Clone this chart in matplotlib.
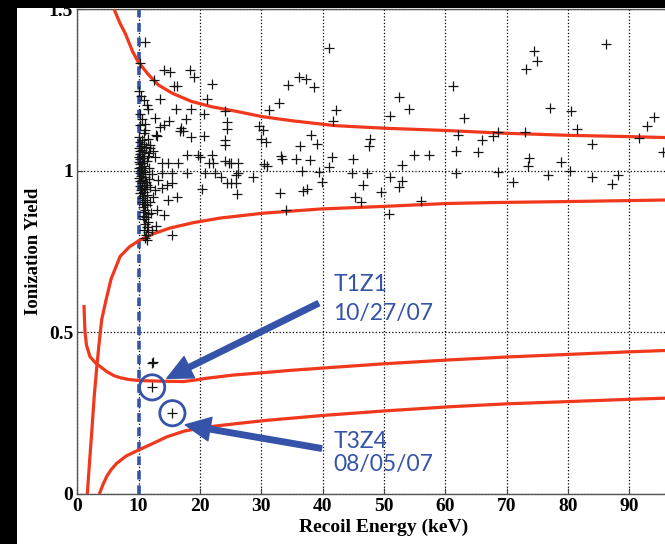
import matplotlib
matplotlib.use("Agg")
import matplotlib.pyplot as plt
from matplotlib.patches import Rectangle

# electron-recoil band edges (keV, yield)
er_hi_x = [6.0, 7.0, 7.8, 9.0, 9.9, 11.5, 13.2, 15.5, 18.6, 22.0, 25.7, 30.1, 35.0, 42.0, 50.0, 60.0, 69.0, 80.0, 90.0, 100.0]
er_hi_y = [1.50, 1.455, 1.426, 1.37, 1.338, 1.30, 1.266, 1.24, 1.215, 1.198, 1.185, 1.168, 1.155, 1.140, 1.132, 1.125, 1.117, 1.110, 1.106, 1.101]
er_lo_x = [1.63, 2.0, 2.35, 2.75, 3.16, 3.6, 3.98, 4.68, 5.5, 6.97, 8.5, 10.2, 12.5, 15.1, 19.0, 23.3, 30.3, 39.6, 49.9, 60.2, 68.0, 79.8, 89.8, 100.0]
er_lo_y = [0.0, 0.10, 0.19, 0.30, 0.39, 0.475, 0.54, 0.60, 0.665, 0.735, 0.765, 0.786, 0.806, 0.823, 0.84, 0.854, 0.869, 0.882, 0.890, 0.899, 0.902, 0.905, 0.908, 0.911]

# nuclear-recoil band edges
nr_hi_x = [1.09, 1.15, 1.26, 1.5, 2.07, 3.0, 3.7, 4.79, 6.0, 6.96, 8.5, 10.2, 14.0, 17.3, 19.0, 21.0, 25.4, 30.0, 35.0, 41.7, 50.0, 60.7, 70.0, 80.0, 90.0, 100.0]
nr_hi_y = [0.585, 0.55, 0.50, 0.46, 0.425, 0.405, 0.395, 0.379, 0.366, 0.36, 0.354, 0.351, 0.349, 0.348, 0.352, 0.358, 0.368, 0.375, 0.383, 0.392, 0.403, 0.415, 0.424, 0.432, 0.440, 0.447]
nr_lo_x = [3.59, 4.2, 4.79, 5.5, 6.42, 8.0, 10.2, 12.5, 14.6, 17.5, 21.0, 26.5, 30.9, 40.0, 50.0, 60.7, 70.0, 80.0, 90.0, 100.0]
nr_lo_y = [0.0, 0.03, 0.054, 0.075, 0.095, 0.118, 0.138, 0.158, 0.177, 0.195, 0.207, 0.219, 0.228, 0.243, 0.257, 0.27, 0.279, 0.286, 0.293, 0.299]

# events
ev_x = [
    74.4, 75.0, 73.1, 86.2, 77.0, 80.5, 81.5, 72.9, 68.6, 83.9, 91.6, 92.8, 94.0, 95.5, 73.6, 73.4, 78.9, 80.3,
    76.8, 83.9, 88.2, 87.2, 71.1, 68.6,
    41.1, 61.2, 52.4, 54.1, 51.0, 42.1, 41.6, 63.0, 62.0, 66.0, 67.8, 47.7, 47.5, 61.7, 65.3, 54.9, 57.3, 41.5,
    44.9, 52.9, 44.8, 47.3, 50.9, 52.9, 61.8, 46.5, 52.4, 49.5, 45.3, 46.3, 56.0, 50.8,
    36.1, 37.2, 34.3, 38.6, 32.8, 31.3, 24.1, 24.4, 24.4, 29.6, 30.2, 29.9, 30.8, 38.1, 36.3, 39.1, 24.1, 33.2,
    33.4, 35.7, 38.0, 30.5, 31.0, 24.8, 26.2, 26.2, 36.7, 39.4, 39.9, 41.1, 25.8, 24.4, 25.8, 28.6, 26.0, 33.1,
    36.8, 37.4, 34.0,
    11.0, 10.2, 14.2, 15.1, 18.3, 19.0, 22.0, 12.5, 15.8, 16.3, 13.4, 10.8, 11.3, 21.1, 16.1, 18.5, 11.6, 12.7,
    17.7, 20.6, 14.9, 14.2, 13.5, 11.1, 11.0, 16.9, 17.3, 12.9, 20.7, 18.6,
    16.7, 24.1, 13.0, 11.8, 17.8, 19.7, 20.0, 22.0, 13.8, 14.8, 16.4, 21.4, 22.1, 24.1, 25.1, 11.7, 12.7, 13.8,
    15.5, 17.8, 20.8, 22.4, 23.4, 25.1, 13.2, 14.6, 15.4, 20.3, 12.6, 13.8, 16.2, 14.8, 13.0, 14.2, 15.4, 12.9,
    12.1,
    10.1, 10.4, 10.2, 10.6, 10.3, 10.9, 10.1, 10.5, 10.2, 10.8, 10.4, 10.1, 10.6, 10.3, 10.9, 10.2, 10.5, 10.0,
    10.7, 10.3, 10.9, 10.1, 10.5, 10.2, 10.8, 10.4, 10.0, 10.6, 10.3, 11.1, 10.2, 10.7, 10.4, 11.0, 10.1, 10.6,
    10.3, 11.2, 10.5, 10.8, 10.2, 10.6, 11.0, 10.4, 10.9, 10.3, 11.3, 10.7, 10.5, 11.1, 10.6, 10.9, 11.4, 10.7,
    11.0, 10.8, 11.5, 11.2, 10.9, 11.6, 11.1, 11.3, 10.9, 11.5, 11.2, 11.0, 11.4, 10.7, 11.8, 11.9, 12.2, 11.7,
    11.5, 12.3, 12.0, 11.6, 11.9, 12.4, 11.4, 11.7, 11.3, 11.2,
    12.2, 12.3, 12.2, 15.5,
]
ev_y = [
    1.372, 1.340, 1.315, 1.392, 1.196, 1.184, 1.131, 1.119, 1.120, 1.083, 1.102, 1.139, 1.168, 1.057, 1.040, 1.015, 1.027, 1.001,
    0.988, 0.981, 0.987, 0.959, 0.965, 0.996,
    1.380, 1.263, 1.229, 1.191, 1.169, 1.188, 1.153, 1.164, 1.110, 1.096, 1.108, 1.098, 1.078, 1.063, 1.059, 1.050, 1.049, 1.043,
    1.038, 1.018, 0.993, 0.993, 0.981, 0.970, 0.992, 0.957, 0.949, 0.934, 0.918, 0.903, 0.907, 0.867,
    1.290, 1.283, 1.265, 1.259, 1.210, 1.189, 1.184, 1.150, 1.130, 1.139, 1.125, 1.100, 1.089, 1.112, 1.078, 1.084, 1.080, 1.046,
    1.038, 1.038, 1.033, 1.021, 1.016, 1.024, 1.024, 0.993, 1.001, 0.998, 0.965, 1.013, 0.988, 0.962, 0.962, 0.980, 0.929, 0.932,
    0.938, 0.943, 0.878,
    1.399, 1.333, 1.311, 1.307, 1.313, 1.290, 1.268, 1.281, 1.264, 1.264, 1.221, 1.218, 1.204, 1.221, 1.191, 1.191, 1.191, 1.165,
    1.162, 1.175, 1.155, 1.142, 1.137, 1.146, 1.127, 1.132, 1.124, 1.111, 1.108, 1.104,
    1.122, 1.096, 1.109, 1.080, 1.050, 1.050, 1.044, 1.050, 1.023, 1.023, 1.023, 1.023, 1.023, 1.029, 1.024, 1.055, 1.044, 0.993,
    0.993, 0.993, 0.993, 0.993, 0.982, 0.962, 0.972, 0.957, 0.962, 0.943, 0.941, 0.946, 0.920, 0.910, 0.879, 0.864, 0.802, 0.828,
    0.817,
    1.247, 1.232, 1.176, 1.161, 1.142, 1.118, 1.105, 1.097, 1.088, 1.084, 1.076, 1.071, 1.066, 1.061, 1.057, 1.052, 1.047, 1.043,
    1.040, 1.036, 1.032, 1.028, 1.025, 1.020, 1.016, 1.012, 1.008, 1.004, 1.000, 0.997, 0.993, 0.989, 0.985, 0.981, 0.977, 0.973,
    0.969, 0.965, 0.961, 0.957, 0.953, 0.948, 0.944, 0.940, 0.935, 0.930, 0.926, 0.921, 0.916, 0.911, 0.905, 0.899, 0.893, 0.887,
    0.880, 0.873, 0.866, 0.858, 0.850, 0.843, 0.835, 0.826, 0.818, 0.810, 0.801, 0.793, 0.785, 0.860, 0.905, 0.950, 0.990, 1.010,
    1.045, 0.920, 0.870, 1.100, 1.070, 1.060, 0.955, 0.975, 1.030, 1.075,
    0.405, 0.410, 0.330, 0.250,
]

# circled candidates
cand_x = [12.2, 15.5]
cand_y = [0.330, 0.250]

xticks = [0, 10, 20, 30, 40, 50, 60, 70, 80, 90]
yticks = [0, 0.5, 1, 1.5]
ytick_labels = ["0", "0.5", "1", "1.5"]

red = "#f0381c"
blue = "#3553a8"

fig = plt.figure(figsize=(6.65, 5.44), dpi=100, facecolor="black")
# white slide area behind the plot
fig.patches.append(Rectangle((17 / 665, 0), 1, 1 - 8 / 544, transform=fig.transFigure,
                             facecolor="white", edgecolor="none", zorder=-1))

ax = fig.add_axes([77.3 / 665, 50 / 544, 613.5 / 665, 484.7 / 544])
ax.set_xlim(0, 100)
ax.set_ylim(0, 1.5)

ax.set_xticks(xticks)
ax.set_yticks(yticks)
ax.set_yticklabels(ytick_labels)
ax.grid(True, color="black", linestyle=":", linewidth=0.9)
ax.axvline(100, color="black", linestyle=":", linewidth=0.9)
ax.set_axisbelow(True)

for xs, ys in [(er_hi_x, er_hi_y), (er_lo_x, er_lo_y), (nr_hi_x, nr_hi_y), (nr_lo_x, nr_lo_y)]:
    ax.plot(xs, ys, color=red, linewidth=2.3, solid_capstyle="butt", zorder=3)

ax.axvline(10, color=blue, linewidth=2.6, linestyle="--", dashes=(2.4, 1.6), zorder=2)

ax.plot(ev_x, ev_y, linestyle="none", marker="+", color="#151515", markersize=6.5,
        markeredgewidth=0.9, zorder=4)

ax.scatter(cand_x, cand_y, s=330, facecolors="none", edgecolors=blue, linewidths=2.0, zorder=5)

arrow = dict(arrowstyle="simple,head_length=1.0,head_width=0.95,tail_width=0.22",
             color=blue, mutation_scale=18, shrinkA=0, shrinkB=0)
ax.annotate("", xy=(14.6, 0.358), xytext=(39.3, 0.590), arrowprops=arrow, zorder=6)
ax.annotate("", xy=(17.6, 0.214), xytext=(39.8, 0.141), arrowprops=arrow, zorder=6)

lab = dict(color=blue, fontsize=16.5, family="Lato", va="center", ha="left")
ax.text(41.7, 0.647, "T1Z1", **lab)
ax.text(41.7, 0.560, "10/27/07", **lab)
ax.text(41.7, 0.164, "T3Z4", **lab)
ax.text(41.7, 0.090, "08/05/07", **lab)

serif = "Liberation Serif"
for t in ax.get_xticklabels() + ax.get_yticklabels():
    t.set_family(serif)
    t.set_fontweight("bold")
    t.set_fontsize(14)
ax.tick_params(direction="in", length=4, width=0.8, color="#444444", pad=3)

ax.set_xlabel("Recoil Energy (keV)", family=serif, fontweight="bold", fontsize=14)
ax.set_ylabel("Ionization Yield", family=serif, fontweight="bold", fontsize=13.5)
ax.xaxis.set_label_coords(0.5, -0.051)
ax.yaxis.set_label_coords(-0.057, 0.5)

for s in ax.spines.values():
    s.set_color("#555555")
    s.set_linewidth(1.0)

fig.savefig("out.png", dpi=100, facecolor=fig.get_facecolor())
